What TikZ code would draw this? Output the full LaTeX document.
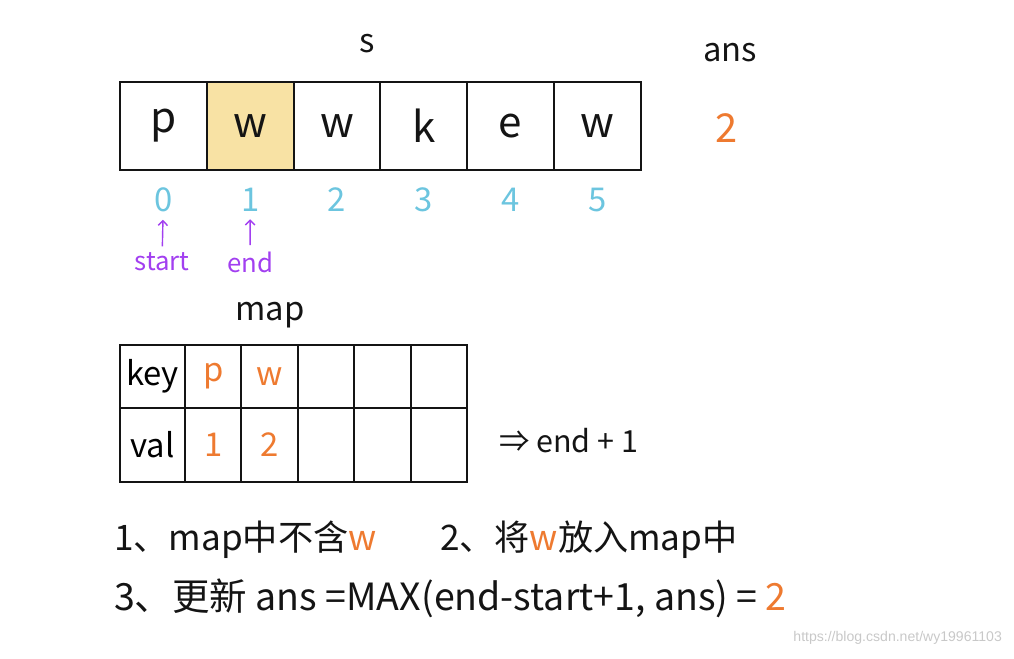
\documentclass[tikz,border=0pt]{standalone}
\usepackage{fontspec}
\setmainfont{Noto Sans CJK SC}
\newfontfamily\wmfont{Liberation Sans}
\usetikzlibrary{arrows.meta,positioning}
\definecolor{ink}{HTML}{141414}
\definecolor{hl}{HTML}{F8E2A4}
\definecolor{idx}{HTML}{6CC5DF}
\definecolor{ptr}{HTML}{A23FF0}
\definecolor{hot}{HTML}{EE7A30}
\definecolor{wm}{HTML}{C8C8C8}

\begin{document}
\begin{tikzpicture}[
  x=0.03cm, y=-0.03cm,
  >=Stealth,
  cell/.style={draw=ink, line width=1.8pt, minimum width=2.604cm, minimum height=2.64cm, inner sep=0pt, text=ink, font=\fontsize{36}{40}\selectfont},
  kcell/.style={draw=ink, line width=1.6pt, minimum width=1.692cm, minimum height=1.89cm, inner sep=0pt, font=\fontsize{28}{32}\selectfont},
  vcell/.style={kcell, minimum height=2.22cm},
  idx/.style={text=idx, font=\fontsize{28}{32}\selectfont},
  ptrlbl/.style={text=ptr, font=\fontsize{22}{26}\selectfont},
  ptrarr/.style={-{Straight Barb[length=4pt,width=8pt]}, ptr, line width=1.2pt, shorten >=3pt, shorten <=2pt},
  lbl/.style={text=ink, font=\fontsize{28}{32}\selectfont},
  note/.style={text=ink, anchor=west, font=\fontsize{30}{34}\selectfont},
]
\useasboundingbox (0,0) rectangle (1014,658);

% string s
\node[lbl] (stitle) at (367,44) {s};
\foreach \c/\f [count=\i from 0] in {p/white,w/hl,w/white,k/white,e/white,w/white}
  \node[cell, fill=\f] (s\i) at ({163.4+86.8*\i},126) {\c};
\foreach \i in {0,...,5}
  \node[idx] (i\i) at ({163.4+86.8*\i},200) {\i};

% pointers
\node[ptrlbl] (start) at (162,262) {start};
\node[ptrlbl] (end) at (250,262) {end};
\draw[ptrarr] (start) -- (i0);
\draw[ptrarr] (end) -- (i1);

% answer
\node[lbl] (anstitle) at (730,53) {ans};
\node[lbl, text=hot, font=\fontsize{34}{38}\selectfont] (ans) at (727,128) {2};

% map
\node[lbl] (maptitle) at (270,315) {map};
\node[kcell, minimum width=1.95cm] (key) at (152.5,376.5) {key};
\node[vcell, minimum width=1.95cm] (val) at (152.5,445) {val};
\foreach \k/\v [count=\j from 0] in {p/1,w/2,/,/,/} {
  \node[kcell, text=hot] (k\j) at ({213.2+56.4*\j},376.5) {\k};
  \node[vcell, text=hot] (v\j) at ({213.2+56.4*\j},445) {\v};
}
\node[lbl, anchor=west, font=\fontsize{26}{30}\selectfont] (rule) at (495,441) {⇒ end + 1};

% steps
\node[note] (step1) at (110,540) {1、map中不含{\color{hot}w}};
\node[note] (step2) at (436,540) {2、将{\color{hot}w}放入map中};
\node[note, font=\fontsize{32}{36}\selectfont] (step3) at (110,598) {3、更新 ans =MAX(end-start+1, ans) = {\color{hot}2}};

\node[text=wm, anchor=east, font=\wmfont\fontsize{12}{14}\selectfont] (mark) at (1006,638) {https://blog.csdn.net/wy19961103};
\end{tikzpicture}
\end{document}
